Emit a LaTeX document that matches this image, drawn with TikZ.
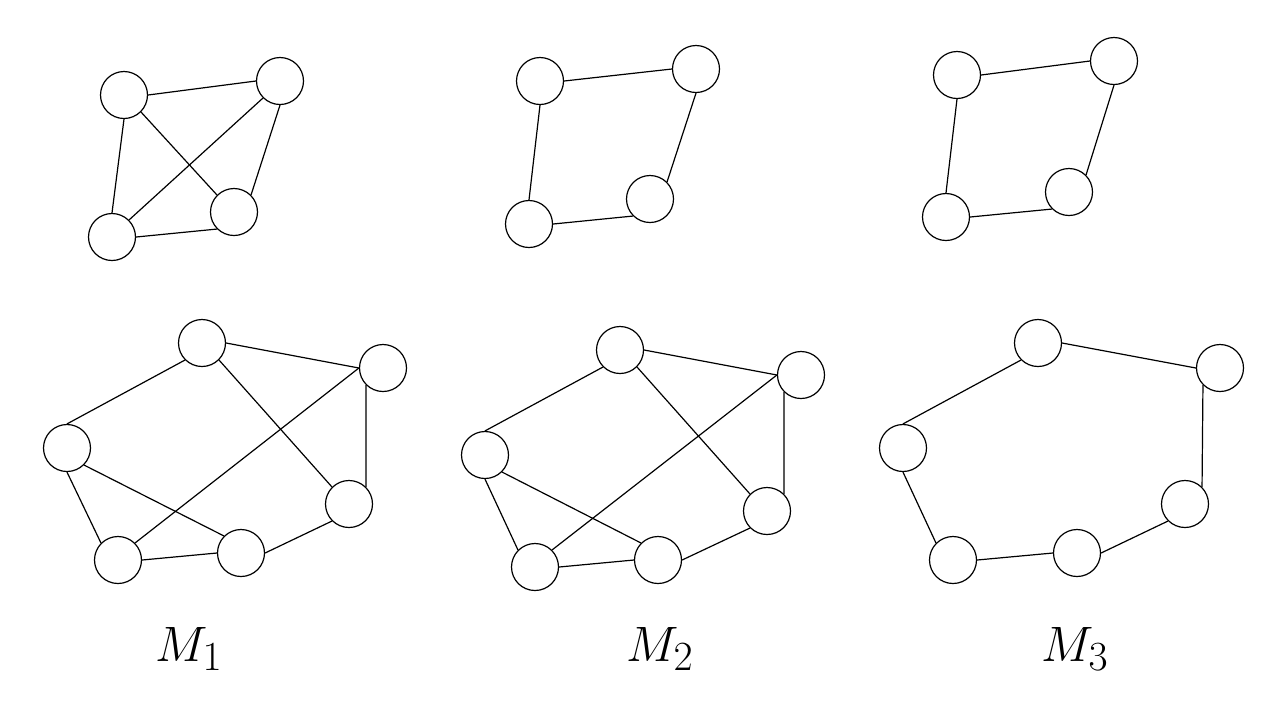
\documentclass[tikz,border=0pt]{standalone}
\usepackage{amsmath}
\usepackage{amssymb}
\usetikzlibrary{calc}

\begin{document}
\begin{tikzpicture}[x=0.5pt, y=-0.5pt, line width=0.6pt,
    vertex/.style={circle, draw, minimum size=23.5pt, inner sep=0pt},
    mlabel/.style={font=\Huge, anchor=base, inner sep=0pt}]
    \useasboundingbox (0,0) rectangle (1280,720);

    % M_1
    \node[vertex] at (124,95) (atl) {};
    \node[vertex] at (280,81) (atr) {};
    \node[vertex] at (234,212) (abr) {};
    \node[vertex] at (112,237) (abl) {};
    \draw (atl.east) -- (atr.west);
    \draw (atl.south) -- (abl.north);
    \draw (atl.south east) -- (abr.north west);
    \draw (atr.south west) -- (abl.north east);
    \draw (atr.south) -- (abr.north east);
    \draw (abl.east) -- (abr.south west);

    \node[vertex] at (202,343) (atop) {};
    \node[vertex] at (383,368) (aright) {};
    \node[vertex] at (67,448) (aleft) {};
    \node[vertex] at (349,504) (amid) {};
    \node[vertex] at (241,553) (abot) {};
    \node[vertex] at (118,560) (acorner) {};
    \draw (atop.east) -- (aright.west);
    \draw (atop.south west) -- (aleft.north);
    \draw (atop.south east) -- (amid.north west);
    \draw (aright.west) -- (acorner.north east);
    \draw (aright.south west) -- (amid.north east);
    \draw (aleft.south) -- (acorner.north west);
    \draw (aleft.south east) -- (abot.north west);
    \draw (acorner.east) -- (abot.west);
    \draw (abot.east) -- (amid.south west);
    \node[mlabel] at (189,661) (mone) {$M_1$};

    % M_2
    \node[vertex] at (540,81) (btl) {};
    \node[vertex] at (696,69) (btr) {};
    \node[vertex] at (650,199) (bbr) {};
    \node[vertex] at (529,224) (bbl) {};
    \draw (btl.east) -- (btr.west);
    \draw (btl.south) -- (bbl.north);
    \draw (btr.south) -- (bbr.north east);
    \draw (bbl.east) -- (bbr.south west);

    \node[vertex] at (620,350) (btop) {};
    \node[vertex] at (801,375) (bright) {};
    \node[vertex] at (485,455) (bleft) {};
    \node[vertex] at (767,511) (bmid) {};
    \node[vertex] at (658,560) (bbot) {};
    \node[vertex] at (535,567) (bcorner) {};
    \draw (btop.east) -- (bright.west);
    \draw (btop.south west) -- (bleft.north);
    \draw (btop.south east) -- (bmid.north west);
    \draw (bright.west) -- (bcorner.north east);
    \draw (bright.south west) -- (bmid.north east);
    \draw (bleft.south) -- (bcorner.north west);
    \draw (bleft.south east) -- (bbot.north west);
    \draw (bcorner.east) -- (bbot.west);
    \draw (bbot.east) -- (bmid.south west);
    \node[mlabel] at (660,661) (mtwo) {$M_2$};

    % M_3
    \node[vertex] at (957,75) (ctl) {};
    \node[vertex] at (1114,61) (ctr) {};
    \node[vertex] at (1069,192) (cbr) {};
    \node[vertex] at (946,217) (cbl) {};
    \draw (ctl.east) -- (ctr.west);
    \draw (ctl.south) -- (cbl.north);
    \draw (ctr.south) -- (cbr.north east);
    \draw (cbl.east) -- (cbr.south west);

    \node[vertex] at (1038,343) (ctop) {};
    \node[vertex] at (1220,368) (cright) {};
    \node[vertex] at (903,448) (cleft) {};
    \node[vertex] at (1185,504) (cmid) {};
    \node[vertex] at (1077,553) (cbot) {};
    \node[vertex] at (953,560) (ccorner) {};
    \draw (ctop.east) -- (cright.west);
    \draw (ctop.south west) -- (cleft.north);
    \draw (cright.south west) -- (cmid.north east);
    \draw (cleft.south) -- (ccorner.north west);
    \draw (ccorner.east) -- (cbot.west);
    \draw (cbot.east) -- (cmid.south west);
    \node[mlabel] at (1075,661) (mthree) {$M_3$};

\end{tikzpicture}
\end{document}
